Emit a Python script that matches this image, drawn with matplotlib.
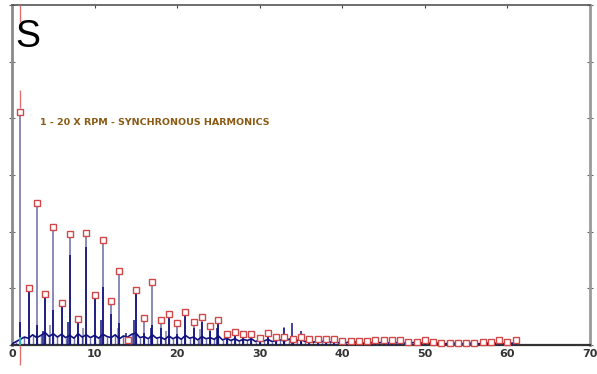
import numpy as np
import matplotlib.pyplot as plt

# harmonic orders 1..61 and amplitude at each (peak-hold trace, red markers)
orders = list(range(1, 62))
harm_amp = [4.11, 1.01, 2.50, 0.90, 2.08, 0.74, 1.96, 0.46, 1.98, 0.89,
            1.86, 0.77, 1.30, 0.08, 0.97, 0.48, 1.12, 0.44, 0.54, 0.39,
            0.59, 0.41, 0.49, 0.34, 0.44, 0.20, 0.23, 0.19, 0.20, 0.12,
            0.22, 0.14, 0.15, 0.11, 0.15, 0.11, 0.11, 0.11, 0.10, 0.065,
            0.065, 0.065, 0.065, 0.09, 0.09, 0.08, 0.08, 0.05, 0.05, 0.09,
            0.05, 0.04, 0.04, 0.04, 0.04, 0.04, 0.05, 0.05, 0.09, 0.05,
            0.08]
# current trace height at each harmonic (dark navy)
harm_now = [0.41, 0.97, 0.35, 0.85, 0.62, 0.70, 1.59, 0.47, 1.73, 0.89,
            1.03, 0.55, 0.39, 0.15, 0.97, 0.22, 0.35, 0.30, 0.50, 0.20,
            0.59, 0.30, 0.40, 0.25, 0.40, 0.15, 0.20, 0.12, 0.15, 0.10,
            0.18, 0.10, 0.12, 0.10, 0.12, 0.08, 0.09, 0.08, 0.08, 0.06,
            0.06, 0.06, 0.06, 0.08, 0.07, 0.07, 0.06, 0.05, 0.05, 0.08,
            0.05, 0.04, 0.04, 0.04, 0.04, 0.04, 0.05, 0.05, 0.07, 0.05,
            0.07]
# non-synchronous spikes
side_x = [3.8, 6.8, 10.8, 13.8, 14.8, 16.8, 24.8, 32.9, 33.9, 34.95]
side_y = [0.25, 0.40, 0.45, 0.22, 0.45, 0.30, 0.30, 0.30, 0.39, 0.25]
light_side_x = [4.6, 8.6, 12.8, 18.7, 22.8, 32.9]
light_side_y = [0.35, 0.30, 0.30, 0.25, 0.28, 0.32]
# noise floor, every 0.5 orders from 0 to 61
floor = [0.02, 0.06, 0.10, 0.14, 0.12, 0.18, 0.13, 0.17, 0.22, 0.15,
         0.20, 0.14, 0.19, 0.13, 0.17, 0.12, 0.20, 0.14, 0.18, 0.13,
         0.17, 0.12, 0.19, 0.15, 0.13, 0.18, 0.11, 0.16, 0.14, 0.19,
         0.21, 0.13, 0.15, 0.11, 0.18, 0.12, 0.14, 0.10, 0.16, 0.11,
         0.15, 0.10, 0.17, 0.12, 0.14, 0.09, 0.15, 0.11, 0.13, 0.10,
         0.16, 0.09, 0.12, 0.08, 0.11, 0.07, 0.10, 0.08, 0.11, 0.06,
         0.09, 0.07, 0.10, 0.06, 0.08, 0.09, 0.07, 0.10, 0.12, 0.08,
         0.10, 0.06, 0.08, 0.05, 0.07, 0.06, 0.08, 0.05, 0.07, 0.04,
         0.06, 0.04, 0.07, 0.05, 0.06, 0.03, 0.05, 0.04, 0.06, 0.04,
         0.05, 0.03, 0.06, 0.04, 0.05, 0.03, 0.06, 0.04, 0.05, 0.03,
         0.06, 0.03, 0.04, 0.03, 0.05, 0.02, 0.04, 0.03, 0.04, 0.02,
         0.04, 0.03, 0.05, 0.02, 0.04, 0.03, 0.05, 0.03, 0.04, 0.02,
         0.05, 0.03, 0.04]
floor_x = np.arange(len(floor)) * 0.5

navy = '#10107e'
lav = '#8a8ab6'

fig = plt.figure(figsize=(5.97, 3.74), dpi=100)
ax = fig.add_axes([0.0201, 0.0775, 0.9682, 0.9091])

ax.vlines(orders, 0, harm_amp, color=lav, lw=1.4, zorder=2)
ax.vlines(light_side_x, 0, light_side_y, color=lav, lw=1.2, zorder=2)
ax.plot(floor_x, floor, color=navy, lw=1.2, zorder=3)
ax.vlines(floor_x, 0, floor, color=navy, lw=1.0, alpha=0.6, zorder=3)
ax.vlines(orders, 0, harm_now, color=navy, lw=1.2, zorder=4)
ax.vlines(side_x, 0, side_y, color=navy, lw=1.1, zorder=4)
ax.vlines([1], 0, [0.15], color='#30d0c0', lw=1.2, zorder=5)

ax.plot(orders, harm_amp, ls='none', marker='s', ms=5, mfc='white',
        mec='#d04848', mew=1.0, zorder=6, clip_on=False)

# cursor at 1X
ax.vlines([1, 1], [5.7, 4.18], [6.0, 4.5], color='#e07070', lw=1.0, zorder=5)
ax.vlines([1], [-0.36], [0], color='#e07070', lw=1.0, zorder=5, clip_on=False)

ax.text(0.36, 5.26, 'S', fontsize=27, family='Liberation Sans', va='baseline')
ax.text(3.4, 3.93, '1 - 20 X RPM - SYNCHRONOUS HARMONICS', fontsize=6.8,
        fontweight='bold', color='#8b5a14', va='center')

ax.set_xlim(0, 70)
ax.set_ylim(0, 6)
ax.set_xticks(range(0, 71, 10))
ax.set_yticks(range(0, 7))
ax.set_yticklabels([])
ax.tick_params(axis='x', direction='in', length=2, color='#444444',
               labelsize=8, labelcolor='#333333', pad=3, top=True)
ax.tick_params(axis='y', direction='inout', length=5, color='#666666',
               right=True)
for lab in ax.get_xticklabels():
    lab.set_fontweight('bold')
ax.spines['left'].set_color('#8a8a8a')
ax.spines['left'].set_linewidth(2)
ax.spines['right'].set_color('#9a9a9a')
ax.spines['right'].set_linewidth(2)
ax.spines['top'].set_color('#555555')
ax.spines['top'].set_linewidth(1.2)
ax.spines['bottom'].set_color('#333333')
ax.spines['bottom'].set_linewidth(1.6)

fig.savefig('out.png', dpi=100)
